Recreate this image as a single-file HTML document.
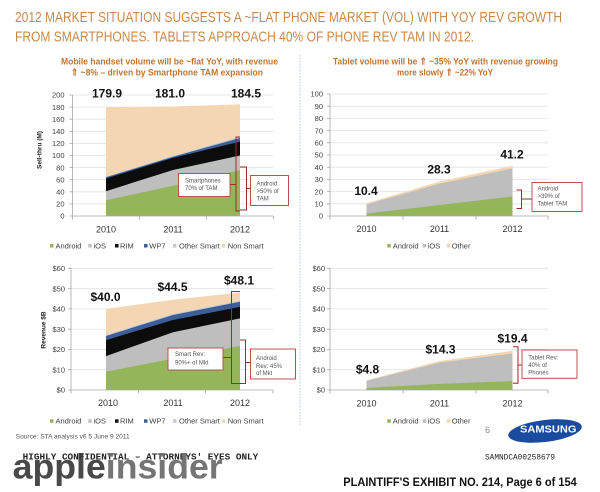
<!DOCTYPE html>
<html><head><meta charset="utf-8"><style>
html,body{margin:0;padding:0;background:#fff;}
svg{display:block;}
text{font-family:"Liberation Sans",sans-serif;}
.tk{font-size:7.5px;fill:#404040;}
.xl{font-size:9px;fill:#333;}
.lg{font-size:7.5px;fill:#404040;}
.dv{font-size:12px;font-weight:bold;fill:#111;}
.bx{font-size:6px;fill:#555;}
.gr{stroke:#e2e2e2;stroke-width:0.8;}
.ax{stroke:#a6a6a6;stroke-width:0.8;fill:none;}
.br{stroke:#9e2a2b;stroke-width:1;fill:none;}
.bxr{stroke:#b85450;stroke-width:1;fill:#fff;}
</style></head><body>
<svg width="600" height="492" viewBox="0 0 600 492" xmlns="http://www.w3.org/2000/svg">
<rect width="600" height="492" fill="#fff"/>

<!-- Title -->
<text x="15" y="22" font-size="15" fill="#c68a4c" textLength="547" lengthAdjust="spacingAndGlyphs">2012 MARKET SITUATION SUGGESTS A ~FLAT PHONE MARKET (VOL) WITH YOY REV GROWTH</text>
<text x="15" y="41.5" font-size="15" fill="#c68a4c" textLength="459" lengthAdjust="spacingAndGlyphs">FROM SMARTPHONES. TABLETS APPROACH 40% OF PHONE REV TAM IN 2012.</text>

<!-- Subtitles -->
<text x="61" y="64.5" font-size="9.5" font-weight="bold" fill="#c0752e" textLength="217" lengthAdjust="spacingAndGlyphs">Mobile handset volume will be ~flat YoY, with revenue</text>
<text x="71" y="75.5" font-size="9.5" font-weight="bold" fill="#c0752e" textLength="192" lengthAdjust="spacingAndGlyphs">⇑ ~8% – driven by Smartphone TAM expansion</text>
<text x="333" y="64.5" font-size="9.5" font-weight="bold" fill="#c0752e" textLength="225" lengthAdjust="spacingAndGlyphs">Tablet volume will be ⇑ ~35% YoY with revenue growing</text>
<text x="397" y="75.5" font-size="9.5" font-weight="bold" fill="#c0752e" textLength="96" lengthAdjust="spacingAndGlyphs">more slowly ⇑ ~22% YoY</text>

<!-- divider -->
<line x1="300" y1="55" x2="300" y2="425" stroke="#b9c6d4" stroke-width="1" stroke-dasharray="1.5 1.5"/>

<!-- ============ TOP LEFT ============ -->
<g>
<line class="gr" x1="72.5" y1="95" x2="273.5" y2="95"/>
<line class="gr" x1="72.5" y1="107.1" x2="273.5" y2="107.1"/>
<line class="gr" x1="72.5" y1="119.2" x2="273.5" y2="119.2"/>
<line class="gr" x1="72.5" y1="131.3" x2="273.5" y2="131.3"/>
<line class="gr" x1="72.5" y1="143.4" x2="273.5" y2="143.4"/>
<line class="gr" x1="72.5" y1="155.5" x2="273.5" y2="155.5"/>
<line class="gr" x1="72.5" y1="167.6" x2="273.5" y2="167.6"/>
<line class="gr" x1="72.5" y1="179.7" x2="273.5" y2="179.7"/>
<line class="gr" x1="72.5" y1="191.8" x2="273.5" y2="191.8"/>
<line class="gr" x1="72.5" y1="203.9" x2="273.5" y2="203.9"/>

<polygon fill="#f4d6b3" points="106,216 106,107.2 173,106.5 240,104.4 240,216"/>
<polygon fill="#b8cce0" points="106,216 106,176.7 173,156.1 240,136.8 240,216"/>
<polygon fill="#3d5e96" points="106,216 106,177.3 173,156.7 240,138 240,216"/>
<polygon fill="#0c0c0c" points="106,216 106,178.5 173,157.9 240,141.6 240,216"/>
<polygon fill="#bebebe" points="106,216 106,191.2 173,170 240,155.5 240,216"/>
<polygon fill="#94b55a" points="106,216 106,200.3 173,185.8 240,170 240,216"/>

<path class="ax" d="M72.5,95 V216 H273.5"/>
<path class="ax" d="M69.5,95H72.5 M69.5,107.1H72.5 M69.5,119.2H72.5 M69.5,131.3H72.5 M69.5,143.4H72.5 M69.5,155.5H72.5 M69.5,167.6H72.5 M69.5,179.7H72.5 M69.5,191.8H72.5 M69.5,203.9H72.5 M69.5,216H72.5 M72.5,216V219.5 M139.5,216V219.5 M206.5,216V219.5 M273.5,216V219.5"/>

<g class="tk" text-anchor="end">
<text x="64.5" y="97.7">200</text><text x="64.5" y="109.8">180</text><text x="64.5" y="121.9">160</text><text x="64.5" y="134">140</text><text x="64.5" y="146.1">120</text><text x="64.5" y="158.2">100</text><text x="64.5" y="170.3">80</text><text x="64.5" y="182.4">60</text><text x="64.5" y="194.5">40</text><text x="64.5" y="206.6">20</text><text x="64.5" y="218.7">0</text>
</g>
<text x="0" y="0" font-size="6.5" font-weight="bold" fill="#222" text-anchor="middle" transform="translate(41.5,150) rotate(-90)">Sell-thru (M)</text>
<g class="xl" text-anchor="middle"><text x="106" y="232.3">2010</text><text x="173" y="232.3">2011</text><text x="240" y="232.3">2012</text></g>
<g class="dv" text-anchor="middle"><text x="107" y="97.5">179.9</text><text x="170" y="97.5">181.0</text><text x="246" y="97.5">184.5</text></g>

<rect class="bxr" x="178.5" y="173.5" width="51.5" height="23"/>
<text class="bx" x="185" y="182.7">Smartphones</text><text class="bx" x="185" y="190">70% of TAM</text>
<path class="br" d="M240,137 H236 V211 H240 M230,184.5 H236"/>
<path class="br" d="M240,167 H246.5 V210 H240 M246.5,188.5 H250.5"/>
<rect class="bxr" x="250.5" y="175.5" width="38" height="30"/>
<text class="bx" x="256.5" y="185.4">Android</text><text class="bx" x="256.5" y="193">&gt;50% of</text><text class="bx" x="256.5" y="200.4">TAM</text>

<g class="lg">
<rect x="50" y="244" width="3.5" height="3.5" fill="#94b55a"/><text x="55.5" y="248.3">Android</text>
<rect x="88.3" y="244" width="3.5" height="3.5" fill="#bebebe"/><text x="93.5" y="248.3">iOS</text>
<rect x="115" y="244" width="3.5" height="3.5" fill="#0c0c0c"/><text x="120" y="248.3">RIM</text>
<rect x="144" y="244" width="3.5" height="3.5" fill="#3d5e96"/><text x="149.3" y="248.3">WP7</text>
<rect x="173" y="244" width="3.5" height="3.5" fill="#b8cce0"/><text x="179" y="248.3">Other Smart</text>
<rect x="221.7" y="244" width="3.5" height="3.5" fill="#f4d6b3"/><text x="227.7" y="248.3">Non Smart</text>
</g>
</g>

<!-- ============ TOP RIGHT ============ -->
<g>
<line class="gr" x1="330" y1="94" x2="548" y2="94"/>
<line class="gr" x1="330" y1="106.2" x2="548" y2="106.2"/>
<line class="gr" x1="330" y1="118.4" x2="548" y2="118.4"/>
<line class="gr" x1="330" y1="130.6" x2="548" y2="130.6"/>
<line class="gr" x1="330" y1="142.8" x2="548" y2="142.8"/>
<line class="gr" x1="330" y1="155" x2="548" y2="155"/>
<line class="gr" x1="330" y1="167.2" x2="548" y2="167.2"/>
<line class="gr" x1="330" y1="179.4" x2="548" y2="179.4"/>
<line class="gr" x1="330" y1="191.6" x2="548" y2="191.6"/>
<line class="gr" x1="330" y1="203.8" x2="548" y2="203.8"/>

<polygon fill="#f4d6b3" points="366.5,216 366.5,203.3 439.5,181.5 512.5,165.7 512.5,216"/>
<polygon fill="#bebebe" points="366.5,216 366.5,204.4 439.5,183.7 512.5,168.4 512.5,216"/>
<polygon fill="#94b55a" points="366.5,216 366.5,213.6 439.5,205 512.5,196.5 512.5,216"/>

<path class="ax" d="M330,94 V216 H548"/>
<path class="ax" d="M327,94H330 M327,106.2H330 M327,118.4H330 M327,130.6H330 M327,142.8H330 M327,155H330 M327,167.2H330 M327,179.4H330 M327,191.6H330 M327,203.8H330 M327,216H330 M330,216V219.5 M403,216V219.5 M476,216V219.5 M548,216V219.5"/>
<g class="tk" text-anchor="end">
<text x="323" y="96.7">100</text><text x="323" y="108.9">90</text><text x="323" y="121.1">80</text><text x="323" y="133.3">70</text><text x="323" y="145.5">60</text><text x="323" y="157.7">50</text><text x="323" y="169.9">40</text><text x="323" y="182.1">30</text><text x="323" y="194.3">20</text><text x="323" y="206.5">10</text><text x="323" y="218.7">0</text>
</g>
<g class="xl" text-anchor="middle"><text x="366.5" y="232">2010</text><text x="439.5" y="232">2011</text><text x="512.5" y="232">2012</text></g>
<g class="dv" text-anchor="middle"><text x="366" y="195">10.4</text><text x="439" y="173.6">28.3</text><text x="512" y="158.3">41.2</text></g>

<path class="br" d="M516.5,190 H521.5 V208.5 H516.5 M521.5,199 H532"/>
<rect class="bxr" x="532" y="182.5" width="50" height="29"/>
<text class="bx" x="537.5" y="190.5">Android</text><text class="bx" x="537.5" y="198.2">&gt;39% of</text><text class="bx" x="537.5" y="205.5">Tablet TAM</text>

<g class="lg">
<rect x="387.3" y="244" width="3.5" height="3.5" fill="#94b55a"/><text x="392.7" y="248.3">Android</text>
<rect x="422.7" y="244" width="3.5" height="3.5" fill="#bebebe"/><text x="427.7" y="248.3">iOS</text>
<rect x="446.7" y="244" width="3.5" height="3.5" fill="#f4d6b3"/><text x="451.7" y="248.3">Other</text>
</g>
</g>

<!-- ============ BOTTOM LEFT ============ -->
<g>
<line class="gr" x1="71" y1="268.3" x2="273" y2="268.3"/>
<line class="gr" x1="71" y1="288.6" x2="273" y2="288.6"/>
<line class="gr" x1="71" y1="308.9" x2="273" y2="308.9"/>
<line class="gr" x1="71" y1="329.2" x2="273" y2="329.2"/>
<line class="gr" x1="71" y1="349.4" x2="273" y2="349.4"/>
<line class="gr" x1="71" y1="369.7" x2="273" y2="369.7"/>

<polygon fill="#f4d6b3" points="106,390 106,308.9 173,299.8 240,292.5 240,390"/>
<polygon fill="#b8cce0" points="106,390 106,335.2 173,314 240,300.8 240,390"/>
<polygon fill="#3d5e96" points="106,390 106,336 173,315 240,301.8 240,390"/>
<polygon fill="#0c0c0c" points="106,390 106,340.1 173,320 240,306.9 240,390"/>
<polygon fill="#bebebe" points="106,390 106,356.1 173,332.2 240,318.4 240,390"/>
<polygon fill="#94b55a" points="106,390 106,371.8 173,358.6 240,346 240,390"/>

<path class="ax" d="M71,268.3 V390 H273"/>
<path class="ax" d="M68,268.3H71 M68,288.6H71 M68,308.9H71 M68,329.2H71 M68,349.4H71 M68,369.7H71 M68,390H71 M71,390V393.5 M138.3,390V393.5 M205.6,390V393.5 M273,390V393.5"/>
<g class="tk" text-anchor="end">
<text x="65" y="271">$60</text><text x="65" y="291.3">$50</text><text x="65" y="311.6">$40</text><text x="65" y="331.9">$30</text><text x="65" y="352.1">$20</text><text x="65" y="372.4">$10</text><text x="65" y="392.7">$0</text>
</g>
<text x="0" y="0" font-size="6.5" font-weight="bold" fill="#222" text-anchor="middle" transform="translate(45.5,330) rotate(-90)">Revenue $B</text>
<g class="xl" text-anchor="middle"><text x="108" y="406">2010</text><text x="173" y="406">2011</text><text x="240" y="406">2012</text></g>
<g class="dv" text-anchor="middle"><text x="105.5" y="301">$40.0</text><text x="172.5" y="291">$44.5</text><text x="239" y="284.3">$48.1</text></g>

<rect class="bxr" x="168" y="348" width="55" height="22"/>
<text class="bx" x="175" y="356.2">Smart Rev:</text><text class="bx" x="175" y="364.5">90%+ of Mkt</text>
<path class="br" d="M240,291.5 H231.5 V383.5 H240 M223,357.5 H231.5"/>
<path class="br" d="M240,340 H245.5 V383.5 H240 M245.5,362.5 H250.5"/>
<rect class="bxr" x="250.5" y="349" width="45" height="30"/>
<text class="bx" x="256" y="359.8">Android</text><text class="bx" x="256" y="367.8">Rev: 45%</text><text class="bx" x="256" y="374.9">of Mkt</text>

<g class="lg">
<rect x="50" y="419.3" width="3.5" height="3.5" fill="#94b55a"/><text x="55.5" y="423.6">Android</text>
<rect x="88.3" y="419.3" width="3.5" height="3.5" fill="#bebebe"/><text x="93.5" y="423.6">iOS</text>
<rect x="115" y="419.3" width="3.5" height="3.5" fill="#0c0c0c"/><text x="120" y="423.6">RIM</text>
<rect x="144" y="419.3" width="3.5" height="3.5" fill="#3d5e96"/><text x="149.3" y="423.6">WP7</text>
<rect x="173" y="419.3" width="3.5" height="3.5" fill="#b8cce0"/><text x="179" y="423.6">Other Smart</text>
<rect x="221.7" y="419.3" width="3.5" height="3.5" fill="#f4d6b3"/><text x="227.7" y="423.6">Non Smart</text>
</g>
</g>

<!-- ============ BOTTOM RIGHT ============ -->
<g>
<line class="gr" x1="330" y1="268.3" x2="548" y2="268.3"/>
<line class="gr" x1="330" y1="288.6" x2="548" y2="288.6"/>
<line class="gr" x1="330" y1="308.9" x2="548" y2="308.9"/>
<line class="gr" x1="330" y1="329.2" x2="548" y2="329.2"/>
<line class="gr" x1="330" y1="349.4" x2="548" y2="349.4"/>
<line class="gr" x1="330" y1="369.7" x2="548" y2="369.7"/>

<polygon fill="#f4d6b3" points="366.5,390 366.5,380.3 439.5,361 512.5,350.7 512.5,390"/>
<polygon fill="#bebebe" points="366.5,390 366.5,380.9 439.5,362.6 512.5,353.5 512.5,390"/>
<polygon fill="#94b55a" points="366.5,390 366.5,388 439.5,383.9 512.5,381.1 512.5,390"/>

<path class="ax" d="M330,268.3 V390 H548"/>
<path class="ax" d="M327,268.3H330 M327,288.6H330 M327,308.9H330 M327,329.2H330 M327,349.4H330 M327,369.7H330 M327,390H330 M330,390V393.5 M403,390V393.5 M476,390V393.5 M548,390V393.5"/>
<g class="tk" text-anchor="end">
<text x="325" y="271">$60</text><text x="325" y="291.3">$50</text><text x="325" y="311.6">$40</text><text x="325" y="331.9">$30</text><text x="325" y="352.1">$20</text><text x="325" y="372.4">$10</text><text x="325" y="392.7">$0</text>
</g>
<g class="xl" text-anchor="middle"><text x="366.5" y="406.5">2010</text><text x="439.5" y="406.5">2011</text><text x="512.5" y="406.5">2012</text></g>
<g class="dv" text-anchor="middle"><text x="367.5" y="373.3">$4.8</text><text x="440.5" y="353.6">$14.3</text><text x="512.5" y="342.6">$19.4</text></g>

<path class="br" d="M513,346.7 H518 V383.3 H513 M518,365 H522"/>
<rect class="bxr" x="522" y="350" width="55" height="28.3"/>
<text class="bx" x="528.3" y="359.4">Tablet Rev:</text><text class="bx" x="528.3" y="367.1">40% of</text><text class="bx" x="528.3" y="374.4">Phones</text>

<g class="lg">
<rect x="387.3" y="419.3" width="3.5" height="3.5" fill="#94b55a"/><text x="392.7" y="423.6">Android</text>
<rect x="422.7" y="419.3" width="3.5" height="3.5" fill="#bebebe"/><text x="427.7" y="423.6">iOS</text>
<rect x="446.7" y="419.3" width="3.5" height="3.5" fill="#f4d6b3"/><text x="451.7" y="423.6">Other</text>
</g>
</g>

<!-- Footer -->
<text x="15.7" y="438.3" font-size="6.5" fill="#555" textLength="114" lengthAdjust="spacingAndGlyphs">Source: STA analysis v6 5 June 9 2011</text>
<text x="22.7" y="459.6" font-family="Liberation Mono, monospace" font-size="9" font-weight="bold" fill="#222" textLength="235.6" lengthAdjust="spacingAndGlyphs" style="font-family:'Liberation Mono',monospace">HIGHLY CONFIDENTIAL – ATTORNEYS' EYES ONLY</text>
<text x="12.7" y="478.3" font-size="35" font-weight="bold" textLength="210" lengthAdjust="spacingAndGlyphs" opacity="0.92"><tspan fill="#3a3a3a">apple</tspan><tspan fill="#6a6a6a">insider</tspan></text>

<text x="485" y="433.2" font-size="9" fill="#888">6</text>
<ellipse cx="545" cy="431" rx="37" ry="11" fill="#1b4b9e" transform="rotate(-7 545 431)"/>
<text x="520" y="432.3" font-size="10" font-weight="bold" fill="#fff" textLength="56.5" lengthAdjust="spacingAndGlyphs">SAMSUNG</text>
<text x="485" y="459.3" font-size="7.8" fill="#222" textLength="70" lengthAdjust="spacingAndGlyphs" style="font-family:'Liberation Mono',monospace">SAMNDCA00258679</text>
<text x="343.3" y="486" font-size="12" font-weight="bold" fill="#111" textLength="233.4" lengthAdjust="spacingAndGlyphs">PLAINTIFF'S EXHIBIT NO. 214, Page 6 of 154</text>
</svg>
</body></html>
